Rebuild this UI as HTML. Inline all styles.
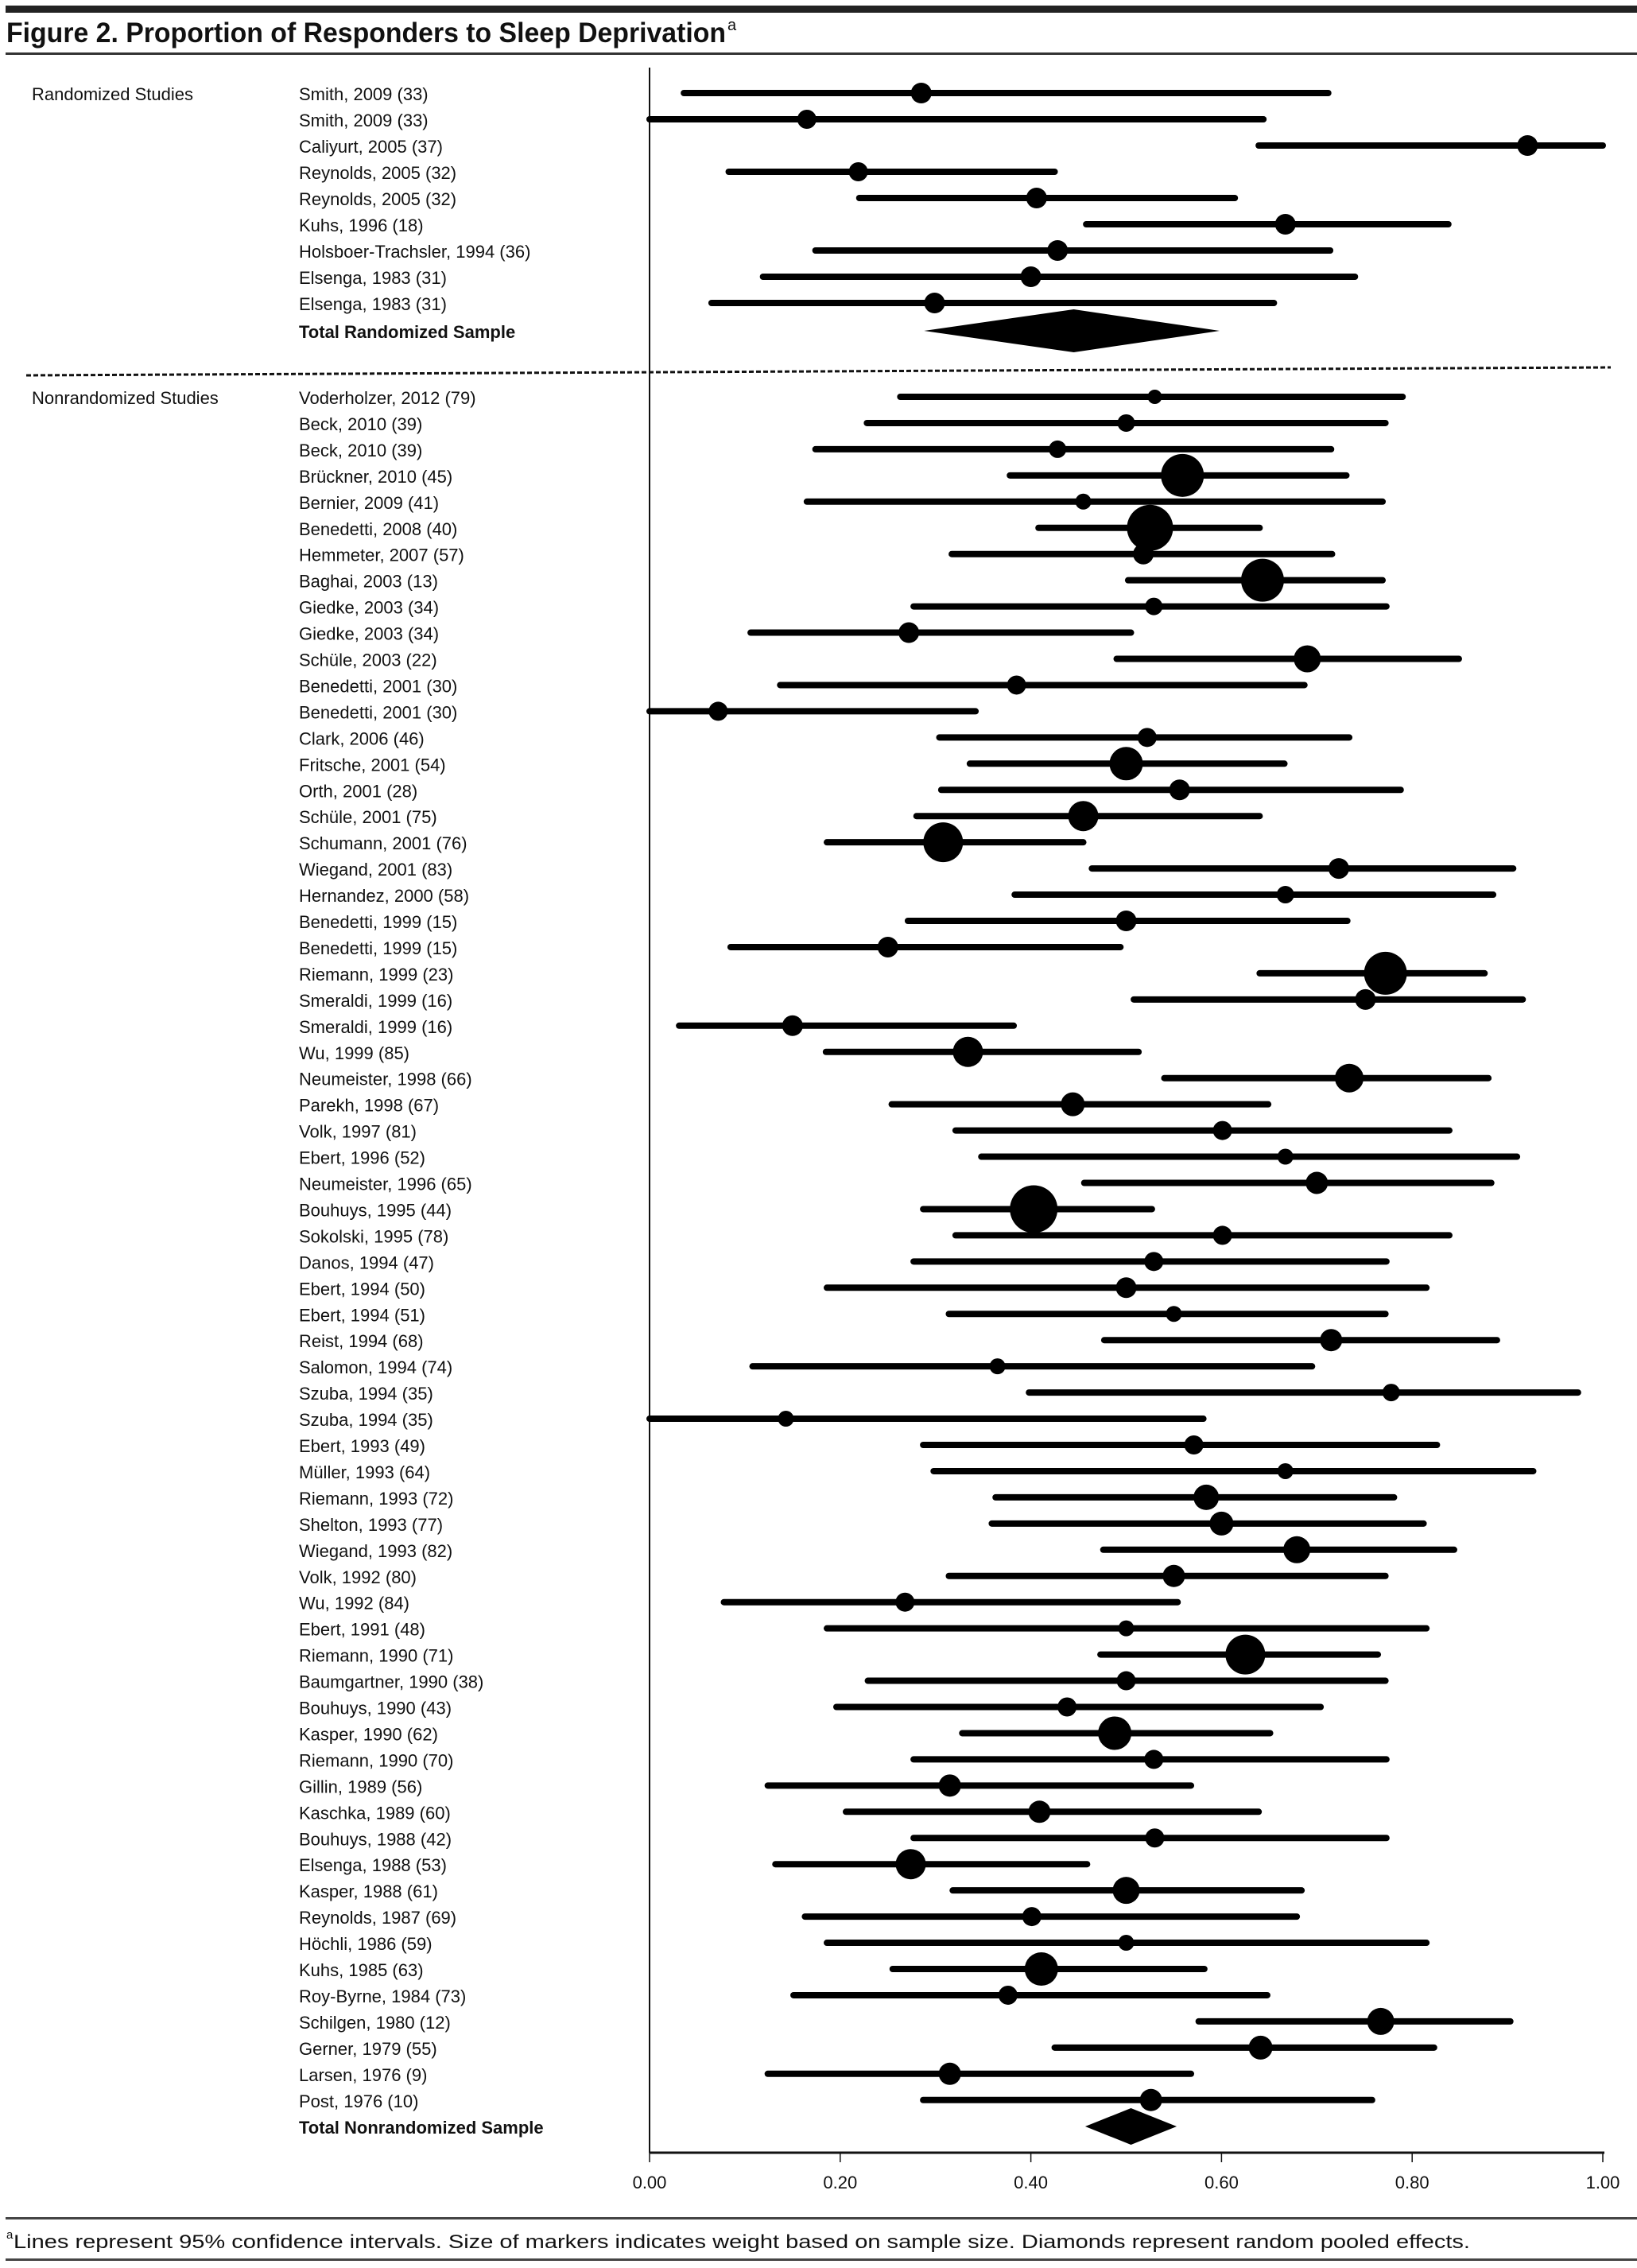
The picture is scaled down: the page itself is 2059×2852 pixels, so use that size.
<!DOCTYPE html>
<html><head><meta charset="utf-8"><style>
html,body{margin:0;padding:0;background:#fff;}
svg{display:block;}
text{font-family:"Liberation Sans",sans-serif;fill:#111;}
</style></head><body>
<svg id="chart" width="2059" height="2852" viewBox="0 0 2059 2852" xmlns="http://www.w3.org/2000/svg">
<rect x="0" y="0" width="2059" height="2852" fill="#fff"/>
<rect x="7" y="7" width="2052" height="9" fill="#222"/>
<text x="8" y="53" font-size="35" font-weight="bold" textLength="905" lengthAdjust="spacingAndGlyphs">Figure 2. Proportion of Responders to Sleep Deprivation</text>
<text x="915" y="38" font-size="20">a</text>
<rect x="7" y="66" width="2052" height="3" fill="#333"/>
<g id="plot"></g>
<rect x="7" y="2788" width="2052" height="3" fill="#444"/>
<text x="8" y="2815" font-size="15">a</text>
<text x="17" y="2827" font-size="24" textLength="1832" lengthAdjust="spacingAndGlyphs">Lines represent 95% confidence intervals. Size of markers indicates weight based on sample size. Diamonds represent random pooled effects.</text>
<rect x="7" y="2840" width="2052" height="3" fill="#444"/>
</svg>
<script>
const randLabels=["Smith, 2009 (33)","Smith, 2009 (33)","Caliyurt, 2005 (37)","Reynolds, 2005 (32)","Reynolds, 2005 (32)","Kuhs, 1996 (18)","Holsboer-Trachsler, 1994 (36)","Elsenga, 1983 (31)","Elsenga, 1983 (31)"];
const randLo=[.036,0,.639,.083,.220,.458,.174,.119,.065];
const randHi=[.712,.644,1.0,.425,.614,.838,.714,.740,.655];
const randPt=[.285,.165,.921,.219,.406,.667,.428,.400,.299];
const randW=[13,12,13,12,13,13,13,13,13];
const randTotal=[.288,.445,.598];
const nonLabels=["Voderholzer, 2012 (79)","Beck, 2010 (39)","Beck, 2010 (39)","Brückner, 2010 (45)","Bernier, 2009 (41)","Benedetti, 2008 (40)","Hemmeter, 2007 (57)","Baghai, 2003 (13)","Giedke, 2003 (34)","Giedke, 2003 (34)","Schüle, 2003 (22)","Benedetti, 2001 (30)","Benedetti, 2001 (30)","Clark, 2006 (46)","Fritsche, 2001 (54)","Orth, 2001 (28)","Schüle, 2001 (75)","Schumann, 2001 (76)","Wiegand, 2001 (83)","Hernandez, 2000 (58)","Benedetti, 1999 (15)","Benedetti, 1999 (15)","Riemann, 1999 (23)","Smeraldi, 1999 (16)","Smeraldi, 1999 (16)","Wu, 1999 (85)","Neumeister, 1998 (66)","Parekh, 1998 (67)","Volk, 1997 (81)","Ebert, 1996 (52)","Neumeister, 1996 (65)","Bouhuys, 1995 (44)","Sokolski, 1995 (78)","Danos, 1994 (47)","Ebert, 1994 (50)","Ebert, 1994 (51)","Reist, 1994 (68)","Salomon, 1994 (74)","Szuba, 1994 (35)","Szuba, 1994 (35)","Ebert, 1993 (49)","Müller, 1993 (64)","Riemann, 1993 (72)","Shelton, 1993 (77)","Wiegand, 1993 (82)","Volk, 1992 (80)","Wu, 1992 (84)","Ebert, 1991 (48)","Riemann, 1990 (71)","Baumgartner, 1990 (38)","Bouhuys, 1990 (43)","Kasper, 1990 (62)","Riemann, 1990 (70)","Gillin, 1989 (56)","Kaschka, 1989 (60)","Bouhuys, 1988 (42)","Elsenga, 1988 (53)","Kasper, 1988 (61)","Reynolds, 1987 (69)","Höchli, 1986 (59)","Kuhs, 1985 (63)","Roy-Byrne, 1984 (73)","Schilgen, 1980 (12)","Gerner, 1979 (55)","Larsen, 1976 (9)","Post, 1976 (10)"];
const nonLo=[.263,.228,.174,.378,.165,.408,.317,.502,.277,.106,.490,.137,0,.304,.336,.306,.280,.186,.464,.383,.271,.085,.640,.508,.031,.185,.540,.254,.321,.348,.456,.287,.321,.277,.186,.314,.477,.108,.398,0,.287,.298,.363,.359,.476,.314,.078,.186,.473,.229,.196,.328,.277,.124,.206,.277,.132,.318,.163,.186,.255,.151,.576,.425,.124,.287];
const nonHi=[.790,.772,.715,.731,.769,.640,.716,.769,.773,.505,.849,.687,.342,.734,.666,.788,.640,.455,.906,.885,.732,.494,.876,.916,.382,.513,.880,.649,.839,.910,.883,.527,.839,.773,.815,.772,.889,.695,.974,.581,.826,.927,.781,.812,.844,.772,.554,.815,.764,.772,.704,.651,.773,.568,.639,.773,.459,.684,.679,.815,.582,.648,.903,.823,.568,.758];
const nonPt=[.530,.500,.428,.559,.455,.525,.518,.643,.529,.272,.690,.385,.072,.522,.500,.556,.455,.308,.723,.667,.500,.250,.772,.751,.150,.334,.734,.444,.601,.667,.700,.403,.601,.529,.500,.550,.715,.365,.778,.143,.571,.667,.584,.600,.679,.550,.268,.500,.625,.500,.438,.488,.529,.315,.409,.530,.274,.500,.401,.500,.411,.376,.767,.641,.315,.526];
const nonW=[9,11,11,27,10,29,13,27,11,13,17,12,12,12,21,13,19,25,13,11,13,13,27,13,13,19,18,15,12,10,14,30,12,12,13,10,14,10,11,10,12,10,16,15,17,14,12,10,25,12,12,21,12,14,14,12,19,17,12,10,21,12,17,15,14,14];
const nonTotal=[.457,.505,.553];
const axisTicks=[0,0.2,0.4,0.6,0.8,1.0];
const tickLabels=["0.00","0.20","0.40","0.60","0.80","1.00"];

const X0=817,X1=2016,PITCH=33;
function xs(v){return X0+v*(X1-X0);}
const NS="http://www.w3.org/2000/svg";
const g=document.getElementById('plot');
function mk(tag,attrs){const e=document.createElementNS(NS,tag);for(const k in attrs)e.setAttribute(k,attrs[k]);g.appendChild(e);return e;}
function txt(x,y,s,bold){const t=mk('text',{x:x,y:y,'font-size':22});if(bold)t.setAttribute('font-weight','bold');t.textContent=s;return t;}

const ax=mk('line',{x1:X0,y1:85,x2:X0,y2:2707,stroke:'#111','stroke-width':2});


const hx=mk('line',{x1:X0,y1:2707,x2:X1+2,y2:2707,stroke:'#111','stroke-width':3});


axisTicks.forEach((v,i)=>{
  const tk=mk('line',{x1:xs(v),y1:2707,x2:xs(v),y2:2719,stroke:'#111','stroke-width':1.5});
  
  
  const tl=mk('text',{x:xs(v),y:2752,'font-size':22,'text-anchor':'middle'});
  tl.textContent=tickLabels[i];
  
  
});

const ds=mk('line',{x1:33,y1:472,x2:2026,y2:462,stroke:'#111','stroke-width':3,'stroke-dasharray':'6 3'});



function drawRow(y,label,lo,hi,pt,w){
  const l=txt(376,y+9,label,false);
  
  
  const ln=mk('line',{x1:xs(lo),y1:y,x2:xs(hi),y2:y,stroke:'#000','stroke-width':8,'stroke-linecap':'round'});
  
  
  const c=mk('circle',{cx:xs(pt),cy:y,r:w,fill:'#000'});
  
  
}
function drawDiamond(y,t,h,label){
  const l=txt(376,y+9,label,true);
  
  
  const p=mk('polygon',{points:`${xs(t[0])},${y} ${xs(t[1])},${y-h} ${xs(t[2])},${y} ${xs(t[1])},${y+h}`,fill:'#000'});
  
  
}

const ry0=117;
const s1=txt(40,ry0+9,"Randomized Studies",false);


randLabels.forEach((lab,i)=>drawRow(ry0+i*PITCH,lab,randLo[i],randHi[i],randPt[i],randW[i]));
drawDiamond(ry0+9*PITCH+2,randTotal,27,"Total Randomized Sample");

const ny0=499;
const s2=txt(40,ny0+9,"Nonrandomized Studies",false);


nonLabels.forEach((lab,i)=>drawRow(ny0+i*32.95,lab,nonLo[i],nonHi[i],nonPt[i],nonW[i]));
drawDiamond(2674,nonTotal,23,"Total Nonrandomized Sample");
</script>
</body></html>
